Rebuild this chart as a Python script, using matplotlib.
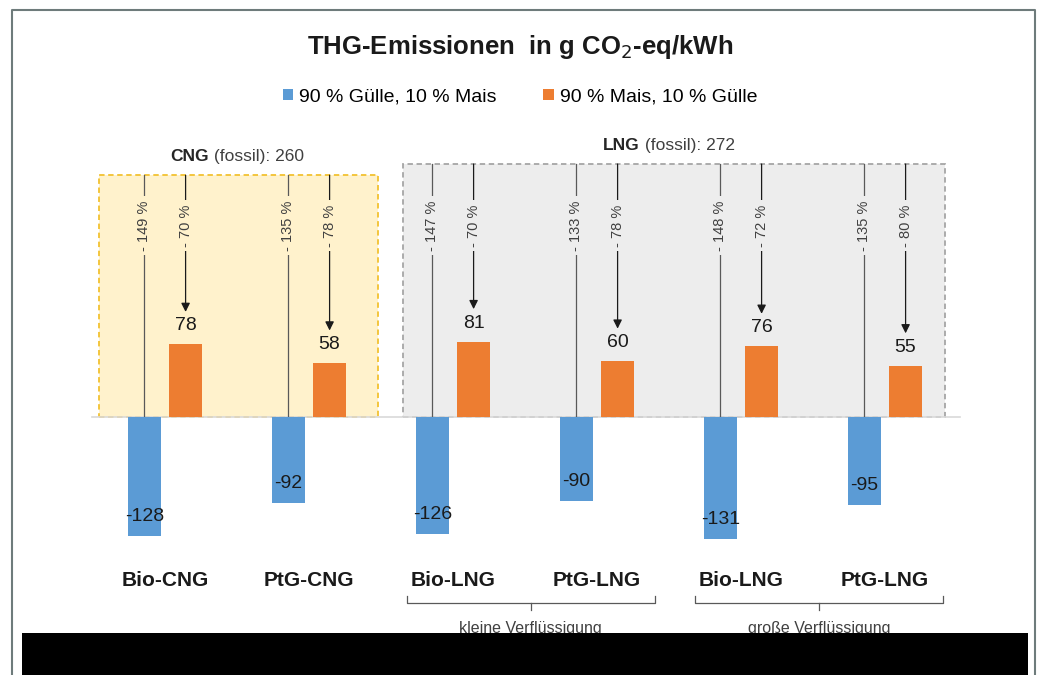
import matplotlib.pyplot as plt
from matplotlib.patches import Rectangle
from matplotlib.lines import Line2D
import numpy as np

# Data
categories = ['Bio-CNG', 'PtG-CNG', 'Bio-LNG', 'PtG-LNG', 'Bio-LNG', 'PtG-LNG']
guelle = [-128, -92, -126, -90, -131, -95]   # 90 % Gülle, 10 % Mais
mais = [78, 58, 81, 60, 76, 55]              # 90 % Mais, 10 % Gülle
guelle_pct = ['149 %', '135 %', '147 %', '133 %', '148 %', '135 %']
mais_pct = ['70 %', '78 %', '70 %', '78 %', '72 %', '80 %']
fossil = [260, 260, 272, 272, 272, 272]

group_names = ['CNG', 'LNG']
group_fossil = [260, 272]
group_members = [(0, 1), (2, 5)]

bracket_labels = ['kleine Verflüssigung', 'große Verflüssigung']
bracket_members = [(2, 3), (4, 5)]

series_labels = ['90 % Gülle, 10 % Mais', '90 % Mais, 10 % Gülle']

BLUE = '#5B9BD5'
ORANGE = '#ED7D31'
SANS = ['Liberation Sans', 'DejaVu Sans']
NARROW = ['Liberation Sans Narrow', 'Liberation Sans', 'DejaVu Sans']

plt.rcParams['font.family'] = SANS

W, H = 1040, 675
fig = plt.figure(figsize=(W / 100, H / 100), dpi=100)
ax = fig.add_axes([0, 0, 1, 1])
ax.set_axis_off()

# pixel mapping: group i centred at 165 + 144*i px, zero line at 417 px, 0.93 px per unit
px_unit = 0.93
ax.set_xlim(-165 / 144, (W - 165) / 144)
ax.set_ylim(-(H - 417) / px_unit, 417 / px_unit)

x = np.arange(len(categories))
bw = 0.23
off = 0.143

# group boxes
box_style = {
    'CNG': dict(fc='#FFF2CC', ec='#F2C230', pad=(0.46, 0.48)),
    'LNG': dict(fc='#EDEDED', ec='#A6A6A6', pad=(0.35, 0.42)),
}
for name, fv, (lo, hi) in zip(group_names, group_fossil, group_members):
    st = box_style[name]
    x0 = lo - st['pad'][0]
    x1 = hi + st['pad'][1]
    ax.add_patch(Rectangle((x0, 0), x1 - x0, fv, fc=st['fc'], ec=st['ec'],
                           lw=1.3, ls=(0, (3, 2)), zorder=0))

ax.plot([-0.51, 5.52], [0, 0], color='#D9D9D9', lw=1.2, zorder=1)

b1 = ax.bar(x - off, guelle, bw, color=BLUE, label=series_labels[0], zorder=3)
b2 = ax.bar(x + off, mais, bw, color=ORANGE, label=series_labels[1], zorder=3)

grp_of = [0, 0, 1, 1, 1, 1]
for i in range(len(categories)):
    fc = box_style[group_names[grp_of[i]]]['fc']
    xb = x[i] - off
    xo = x[i] + off
    # blue reference line from fossil level to zero
    ax.plot([xb, xb], [fossil[i], 0], color='#595959', lw=0.9, zorder=2)
    ax.text(xb, 206, '- ' + guelle_pct[i], rotation=90, ha='center', va='center',
            family=NARROW, fontsize=10.5, color='#404040', zorder=4,
            bbox=dict(boxstyle='square,pad=0.3', fc=fc, ec='none'))
    # orange arrow from fossil level down to the bar value
    ax.annotate('', xy=(xo, mais[i] + 35), xytext=(xo, fossil[i]),
                arrowprops=dict(arrowstyle='-|>', color='#1a1a1a', lw=0.9,
                                mutation_scale=13, shrinkA=0, shrinkB=0), zorder=2)
    ax.text(xo, 206, '- ' + mais_pct[i], rotation=90, ha='center', va='center',
            family=NARROW, fontsize=10.5, color='#404040', zorder=4,
            bbox=dict(boxstyle='square,pad=0.3', fc=fc, ec='none'))
    # value labels
    ax.text(xo, mais[i] + 20, str(mais[i]), ha='center', va='center',
            fontsize=14, color='#1a1a1a', zorder=5)
    ax.text(xb, guelle[i] + 21, str(guelle[i]), ha='center', va='center',
            fontsize=14, color='#1a1a1a', zorder=5)
    # category labels
    ax.text(x[i], -176, categories[i], ha='center', va='center',
            fontsize=15, fontweight='bold', color='#1a1a1a')

# group titles: bold name + regular rest, centred together
fig.canvas.draw()
rend = fig.canvas.get_renderer()
for name, fv, (lo, hi) in zip(group_names, group_fossil, group_members):
    xc = (lo + hi) / 2
    t1 = ax.text(xc, fv + 20, name, ha='left', va='center', family=NARROW,
                 fontsize=12.5, fontweight='bold', color='#262626')
    t2 = ax.text(xc, fv + 20, ' (fossil): %d' % fv, ha='left', va='center',
                 family=NARROW, fontsize=12.5, color='#404040')
    w1 = t1.get_window_extent(rend).width
    w2 = t2.get_window_extent(rend).width
    start_px = ax.transData.transform((xc, 0))[0] - (w1 + w2) / 2
    inv = ax.transData.inverted()
    t1.set_x(inv.transform((start_px, 0))[0])
    t2.set_x(inv.transform((start_px + w1, 0))[0])

# brackets under the LNG groups
for lab, (lo, hi) in zip(bracket_labels, bracket_members):
    xa = lo - 0.32
    xz = hi + 0.40
    xm = (xa + xz) / 2
    ax.plot([xa, xa, xz, xz], [-193, -200, -200, -193], color='#595959', lw=0.9)
    ax.plot([xm, xm], [-200, -207], color='#595959', lw=0.9)
    ax.text(xm, -227, lab, ha='center', va='center', family=NARROW,
            fontsize=11.5, color='#404040')

# title and legend
fig.text(0.5, 1 - 47 / H, 'THG-Emissionen  in g CO$_2$-eq/kWh', ha='center',
         va='center', fontsize=18.5, fontweight='bold', color='#1a1a1a')
ax.legend(handles=[b1, b2], loc='center', bbox_to_anchor=(0.5, 1 - 97 / H),
          ncol=2, frameon=False, fontsize=14, handlelength=0.55,
          handleheight=0.55, handletextpad=0.3, columnspacing=2.4)

# frame and cover block
fig.add_artist(Line2D([12 / W, 12 / W, 1035 / W, 1035 / W], [0, 1 - 10 / H, 1 - 10 / H, 0],
                      color='#6E7B7B', lw=1.5))
fig.add_artist(Rectangle((22 / W, 0), 1006 / W, 42 / H, fc='black', ec='none',
                         transform=fig.transFigure))

fig.savefig('out.png', dpi=100)
